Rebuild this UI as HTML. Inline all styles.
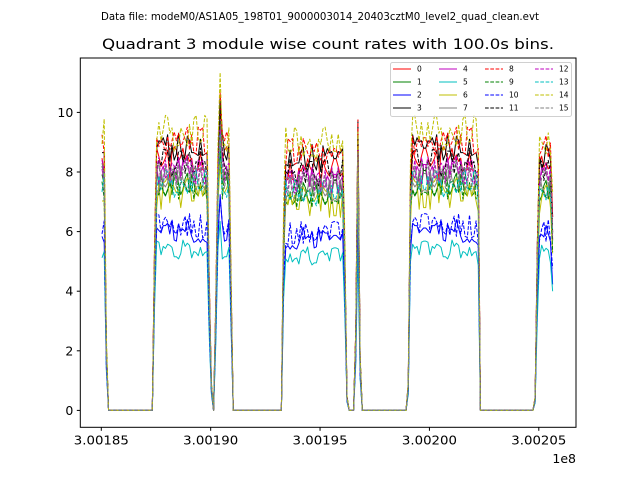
<!DOCTYPE html>
<html><head><meta charset="utf-8"><style>
html,body{margin:0;padding:0;background:#fff;}
svg{display:block;font-family:"DejaVu Sans","Liberation Sans",sans-serif;}
</style></head><body>
<svg id="chart" width="640" height="480" viewBox="0 0 640 480">
<text x="320" y="20" font-size="11" text-anchor="middle" textLength="438" lengthAdjust="spacingAndGlyphs">Data file: modeM0/AS1A05_198T01_9000003014_20403cztM0_level2_quad_clean.evt</text>
<text x="328" y="49" font-size="14" text-anchor="middle" textLength="452" lengthAdjust="spacingAndGlyphs">Quadrant 3 module wise count rates with 100.0s bins.</text>
<g id="plot"></g>
<g id="axes"></g>
<g id="legend"></g>
</svg>
<script>
const seriesNames = ["0","1","2","3","4","5","6","7","8","9","10","11","12","13","14","15"];
const seriesColors = ["#ff0000","#008000","#0000ff","#000000","#bf00bf","#00bfbf","#bfbf00","#808080","#ff0000","#008000","#0000ff","#000000","#bf00bf","#00bfbf","#bfbf00","#808080"];
// typical on-orbit level per module (counts/s)
const seriesLevels = [8.3,7.6,6.0,8.8,8.0,5.4,7.3,7.8,9.0,7.5,6.2,8.3,8.1,7.6,9.3,7.9];
const seriesNoise = [0.55,0.45,0.4,0.5,0.5,0.35,0.55,0.5,0.5,0.45,0.4,0.5,0.5,0.45,0.6,0.5];
// time of first bin (s) and bin width
const startTime = [300185032];
const binWidth = [100];
const nBins = [207];
// activity runs: [startBin, endBin, scale]
const activityRuns = [
 [0,1,1.0],[2,2,0.25],
 [24,24,0.6],[25,48,1.0],[49,49,0.5],[50,50,0.1],[52,52,0.4],[53,53,0.95],[54,54,1.2],[55,58,1.0],[59,59,0.5],
 [83,83,0.7],[84,110,0.96],[111,111,0.6],[112,112,0.05],[116,116,0.3],[117,117,1.05],[118,118,0.2],
 [140,140,0.1],[141,141,0.9],[142,171,1.0],[172,172,0.95],
 [198,198,0.05],[199,199,0.6],[200,205,0.97],[206,206,0.75]
];
const noiseTable = [0.3,-0.8,0.6,-0.2,0.9,-0.5,0.1,-1.0,0.7,-0.3,0.4,-0.7,0.8,0.0,-0.4,1.0,-0.9,0.2,-0.1,0.5,-0.6,0.9,-0.2,0.3,-0.8,0.6,-0.5,0.1,0.8,-0.3,-0.9,0.4,0.2,-0.6,0.7,-0.1,0.5,-0.4,1.0,-0.7,0.0];
const xTicks = [300185000,300190000,300195000,300200000,300205000];
const xTickLabels = ["3.00185","3.00190","3.00195","3.00200","3.00205"];
const yTicks = [0,2,4,6,8,10];

const NS="http://www.w3.org/2000/svg";
const AX={l:80.3,r:576,t:58,b:427.3};
function xScale(t){return 101.3+(t-300185000)*0.021875;}
function yScale(v){return 410.4-v*29.8;}
function mk(tag,attrs,parent){const e=document.createElementNS(NS,tag);for(const k in attrs)e.setAttribute(k,attrs[k]);parent.appendChild(e);return e;}

const env=new Array(nBins[0]).fill(0);
activityRuns.forEach(r=>{for(let i=r[0];i<=r[1];i++)env[i]=r[2];});

const plot=document.getElementById('plot');
seriesNames.forEach((nm,s)=>{
  let pts=[];
  for(let i=0;i<nBins[0];i++){
    const e=env[i];
    let v=0;
    if(e>0){
      const idx=(i*i*3+i*17+s*29+s*s*5)%noiseTable.length;
      v=seriesLevels[s]*e+noiseTable[idx]*seriesNoise[s]*Math.min(1,e);
    }
    if(v<0)v=0;
    pts.push(xScale(startTime[0]+i*binWidth[0]).toFixed(2)+","+yScale(v).toFixed(2));
  }
  const attrs={points:pts.join(" "),fill:"none",stroke:seriesColors[s],"stroke-width":"1","stroke-linejoin":"round"};
  if(s>=8)attrs["stroke-dasharray"]="3.7,1.6";
  const pl=mk('polyline',attrs,plot);
  
  
});

const axes=document.getElementById('axes');
const frame=mk('rect',{x:AX.l,y:AX.t,width:AX.r-AX.l,height:AX.b-AX.t,fill:"none",stroke:"#000","stroke-width":"1"},axes);


xTicks.forEach((t,i)=>{
  const x=xScale(t);
  const tk=mk('line',{x1:x,x2:x,y1:AX.b,y2:AX.b+3.5,stroke:"#000"},axes);
  
  
  const tx=mk('text',{x:x,y:AX.b+17,"font-size":"12.5","text-anchor":"middle",textLength:"55",lengthAdjust:"spacingAndGlyphs"},axes);
  tx.textContent=xTickLabels[i];
  
  
});
yTicks.forEach(v=>{
  const y=yScale(v);
  const tk=mk('line',{x1:AX.l-3.5,x2:AX.l,y1:y,y2:y,stroke:"#000"},axes);
  
  
  const tx=mk('text',{x:AX.l-7,y:y+4.5,"font-size":"12.5","text-anchor":"end"},axes);
  tx.textContent=String(v);
  
  
});
const off=mk('text',{x:576,y:463,"font-size":"12.5","text-anchor":"end"},axes);
off.textContent="1e8";



const lg=document.getElementById('legend');
const box=mk('rect',{x:390.5,y:62.5,width:181,height:54,rx:2,fill:"#fff","fill-opacity":"0.8",stroke:"#d0d0d0"},lg);


const colX=[393,439,485,535];
const rowY=[69,82,95,108];
seriesNames.forEach((nm,s)=>{
  const c=Math.floor(s/4),r=s%4;
  const g=mk('g',{},lg);
  
  
  const la={x1:colX[c],x2:colX[c]+18,y1:rowY[r],y2:rowY[r],stroke:seriesColors[s],"stroke-width":"1"};
  if(s>=8)la["stroke-dasharray"]="3.7,1.6";
  mk('line',la,g);
  const t=mk('text',{x:colX[c]+24,y:rowY[r]+2.5,"font-size":"7.5"},g);
  t.textContent=nm;
});
</script>
</body></html>
